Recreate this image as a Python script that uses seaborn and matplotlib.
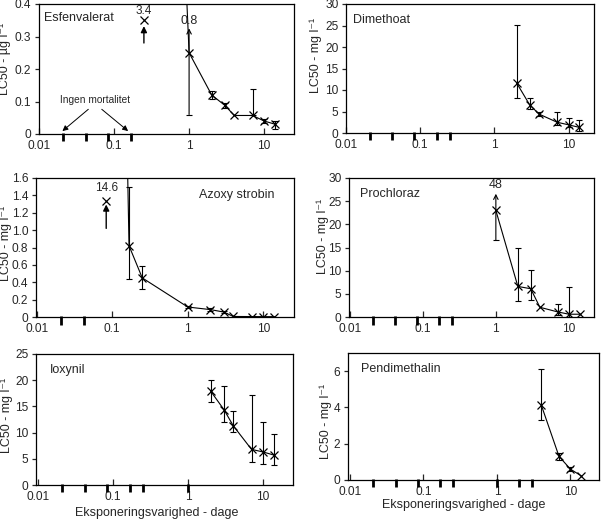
import numpy as np
import matplotlib
matplotlib.use("Agg")
import matplotlib.pyplot as plt
import seaborn as sns

nan = np.nan

# ---------------- data (days, LC50, lower / upper confidence limits) ----------------
esf_days = [0.25, 1, 2, 3, 4, 7, 10, 14]
esf_lc50 = [3.4, 0.25, 0.12, 0.088, 0.057, 0.057, 0.040, 0.030]
esf_low = [nan, 0.06, 0.107, 0.080, nan, 0.057, 0.033, 0.015]
esf_high = [nan, 0.8, 0.133, 0.094, nan, 0.14, 0.047, 0.040]
esf_nodata = [0.0208, 0.0417, 0.0833, 0.167]

dim_days = [2, 3, 4, 7, 10, 14]
dim_lc50 = [11.6, 6.5, 4.4, 2.5, 1.9, 1.3]
dim_low = [8.1, 5.6, 3.9, 1.9, 1.3, 0.5]
dim_high = [25.2, 8.1, 5.0, 4.8, 3.4, 3.0]
dim_nodata = [0.0208, 0.0417, 0.0833, 0.167, 0.25]

azo_days = [0.0833, 0.167, 0.25, 1, 2, 3, 4, 7, 10, 14]
azo_lc50 = [14.6, 0.82, 0.45, 0.115, 0.085, 0.057, 0.006, 0.005, 0.004, 0.004]
azo_low = [nan, 0.44, 0.32, 0.10, 0.07, 0.045, nan, nan, nan, nan]
azo_high = [nan, 1.5, 0.59, 0.13, 0.10, 0.07, nan, nan, nan, nan]
azo_nodata = [0.0208, 0.0417]

pro_days = [1, 2, 3, 4, 7, 10, 14]
pro_lc50 = [23.0, 6.6, 6.1, 2.1, 1.1, 0.6, 0.6]
pro_low = [16.6, 3.4, 3.7, nan, 0.4, 0.05, nan]
pro_high = [48.0, 15.0, 10.1, nan, 2.7, 6.4, nan]
pro_nodata = [0.0208, 0.0417, 0.0833, 0.167, 0.25]

iox_days = [2, 3, 4, 7, 10, 14]
iox_lc50 = [17.9, 14.4, 11.3, 6.8, 6.3, 5.7]
iox_low = [15.9, 12.0, 10.1, 4.3, 4.1, 3.9]
iox_high = [20.0, 18.8, 14.1, 17.1, 12.1, 9.7]
iox_nodata = [0.0208, 0.0417, 0.0833, 0.167, 0.25, 1]

pen_days = [4, 7, 10, 14]
pen_lc50 = [4.15, 1.3, 0.6, 0.23]
pen_low = [3.3, 1.1, 0.5, nan]
pen_high = [6.1, 1.5, 0.7, nan]
pen_nodata = [0.0208, 0.0417, 0.0833, 0.167, 0.25, 1, 2, 3]

x_ticks = [0.01, 0.1, 1, 10]
x_ticklabels = ["0.01", "0.1", "1", "10"]
x_title = "Eksponeringsvarighed - dage"

# ---------------- styling ----------------
sns.set_style("ticks")
plt.rcParams["font.family"] = ["Liberation Sans", "DejaVu Sans"]
plt.rcParams["axes.linewidth"] = 0.9

W, H = 601, 519
fig = plt.figure(figsize=(W / 100, H / 100), dpi=100)


def rect(l, r, t, b):
    return [l / W, (H - b) / H, (r - l) / W, (b - t) / H]


panels = [
    dict(name="Esfenvalerat", unit="µg", d=(esf_days, esf_lc50, esf_low, esf_high, esf_nodata),
         rect=rect(39, 294, 4, 134), xlim=(0.01, 25), ylim=(0, 0.4),
         yticks=[0, 0.1, 0.2, 0.3, 0.4], yfmt=["0", "0.1", "0.2", "0.3", "0.4"],
         name_xy=(0.018, 0.895), ylab_xy=(-0.108, 0.58), bar_clip=0.325,
         off=dict(mark_y=0.35, label_y=0.38, tail=0.28, head=0.332), clip_label_dy=0.024),
    dict(name="Dimethoat", unit="mg", d=(dim_days, dim_lc50, dim_low, dim_high, dim_nodata),
         rect=rect(346, 594, 4, 133), xlim=(0.0107, 22), ylim=(0, 30),
         yticks=[0, 5, 10, 15, 20, 25, 30], yfmt=["0", "5", "10", "15", "20", "25", "30"],
         name_xy=(0.03, 0.875), ylab_xy=(-0.097, 0.6), bar_clip=None, off=None),
    dict(name="Azoxy strobin", unit="mg", d=(azo_days, azo_lc50, azo_low, azo_high, azo_nodata),
         rect=rect(36, 294, 178, 317), xlim=(0.0098, 25.5), ylim=(0, 1.6),
         yticks=[0, 0.2, 0.4, 0.6, 0.8, 1.0, 1.2, 1.4, 1.6],
         yfmt=["0", "0.2", "0.4", "0.6", "0.8", "1.0", "1.2", "1.4", "1.6"],
         name_xy=(0.63, 0.88), ylab_xy=(-0.093, 0.53), bar_clip=None,
         off=dict(mark_y=1.34, label_y=1.49, tail=1.02, head=1.295)),
    dict(name="Prochloraz", unit="mg", d=(pro_days, pro_lc50, pro_low, pro_high, pro_nodata),
         rect=rect(349, 594, 178, 317), xlim=(0.0098, 22), ylim=(0, 30),
         yticks=[0, 5, 10, 15, 20, 25, 30], yfmt=["0", "5", "10", "15", "20", "25", "30"],
         name_xy=(0.045, 0.885), ylab_xy=(-0.082, 0.58), bar_clip=26.6, off=None,
         clip_label_dy=1.9),
    dict(name="Ioxynil", unit="mg", d=(iox_days, iox_lc50, iox_low, iox_high, iox_nodata),
         rect=rect(36, 293, 354, 485), xlim=(0.0094, 25), ylim=(0, 25),
         yticks=[0, 5, 10, 15, 20, 25], yfmt=["0", "5", "10", "15", "20", "25"],
         name_xy=(0.054, 0.878), ylab_xy=(-0.09, 0.53), bar_clip=None, off=None,
         xlab_xy=(0.47, -0.165)),
    dict(name="Pendimethalin", unit="mg", d=(pen_days, pen_lc50, pen_low, pen_high, pen_nodata),
         rect=rect(348, 599, 353, 480), xlim=(0.0094, 24.5), ylim=(0, 7),
         yticks=[0, 2, 4, 6], yfmt=["0", "2", "4", "6"],
         name_xy=(0.052, 0.872), ylab_xy=(-0.064, 0.46), bar_clip=None, off=None,
         xlab_xy=(0.46, -0.15)),
]

FS = 9
TFS = 8.6
for p in panels:
    ax = fig.add_axes(p["rect"])
    days, lc50, low, high, nodata = p["d"]
    days = np.asarray(days, float)
    lc50 = np.asarray(lc50, float)
    low = np.asarray(low, float)
    high = np.asarray(high, float)

    ax.set_xscale("log")
    sns.lineplot(x=days, y=lc50, ax=ax, color="black", marker="x", markersize=5.5,
                 markeredgecolor="black", markeredgewidth=0.9, linewidth=0.8,
                 estimator=None, sort=False)

    ok = ~np.isnan(low)
    clip = p["bar_clip"]
    clipped = ok & (high > clip) if clip is not None else np.zeros_like(ok)
    normal = ok & ~clipped
    if normal.any():
        ax.errorbar(days[normal], lc50[normal],
                    yerr=[lc50[normal] - low[normal], high[normal] - lc50[normal]],
                    fmt="none", ecolor="black", elinewidth=0.8, capsize=2.3, capthick=0.8)
    for xi, yi, lo, hi in zip(days[clipped], lc50[clipped], low[clipped], high[clipped]):
        ax.annotate("", xy=(xi, clip), xytext=(xi, lo),
                    arrowprops=dict(arrowstyle="->", color="black", lw=0.8,
                                    mutation_scale=8, shrinkA=0, shrinkB=0))
        ax.plot([xi], [lo], marker="_", color="black", markersize=4.6, markeredgewidth=0.8)
        ax.text(xi, clip + p["clip_label_dy"], f"{hi:g}", ha="center", va="center",
                fontsize=FS)

    # off-scale first value: symbol, value and arrow
    if p["off"] is not None:
        o = p["off"]
        ax.plot([days[0]], [o["mark_y"]], marker="x", color="black", markersize=5.5,
                markeredgewidth=0.9, linestyle="none")
        ax.text(days[0], o["label_y"], f"{lc50[0]:g}", ha="center", va="center",
                fontsize=FS - 0.5)
        ax.annotate("", xy=(days[0], o["head"]), xytext=(days[0], o["tail"]),
                    arrowprops=dict(arrowstyle="-|>", color="black", lw=1.0,
                                    mutation_scale=9, shrinkA=0, shrinkB=0))

    # exposure times without an LC50 value
    ax.vlines(nodata, -0.055, 0.005, transform=ax.get_xaxis_transform(),
              color="black", linewidth=2.0, clip_on=False)

    ax.set_xlim(*p["xlim"])
    ax.set_ylim(*p["ylim"])
    ax.set_xticks(x_ticks)
    ax.set_xticklabels(x_ticklabels)
    ax.xaxis.set_minor_locator(matplotlib.ticker.NullLocator())
    ax.set_yticks(p["yticks"])
    ax.set_yticklabels(p["yfmt"])
    ax.tick_params(axis="x", direction="in", length=4, width=0.9, labelsize=TFS, pad=4)
    ax.tick_params(axis="y", direction="out", length=3, width=0.9, labelsize=TFS, pad=2.5)
    for s in ax.spines.values():
        s.set_visible(True)
        s.set_color("black")

    ax.text(*p["name_xy"], p["name"], transform=ax.transAxes, ha="left", va="center",
            fontsize=FS)
    ax.set_ylabel(f"LC50 - {p['unit']} l⁻¹", fontsize=FS)
    ax.yaxis.set_label_coords(*p["ylab_xy"])
    if "xlab_xy" in p:
        ax.set_xlabel(x_title, fontsize=FS)
        ax.xaxis.set_label_coords(*p["xlab_xy"])
    else:
        ax.set_xlabel("")

    if p["name"] == "Esfenvalerat":
        ax.text(0.0558, 0.105, "Ingen mortalitet", ha="center", va="center", fontsize=7.3)
        for start, tip in [((0.0454, 0.076), (0.0205, 0.009)),
                           ((0.0686, 0.076), (0.154, 0.009))]:
            ax.annotate("", xy=tip, xytext=start,
                        arrowprops=dict(arrowstyle="-|>", color="black", lw=0.7,
                                        mutation_scale=8, shrinkA=0, shrinkB=0))

fig.savefig("out.png", dpi=100)
